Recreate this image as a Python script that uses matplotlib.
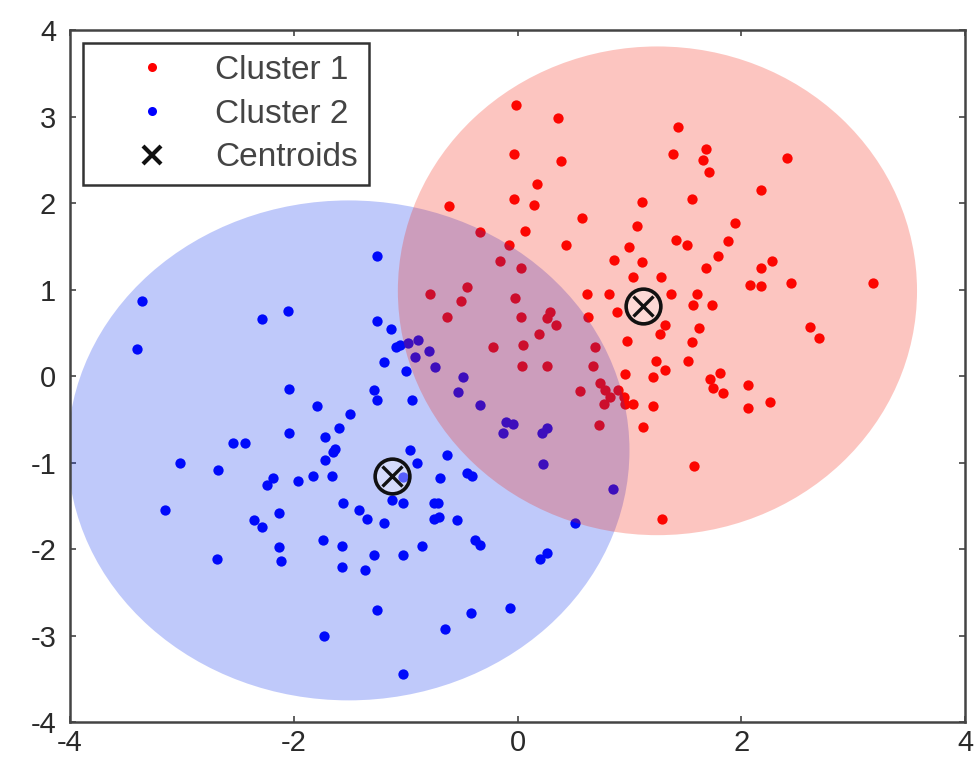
import matplotlib
matplotlib.use("Agg")
import matplotlib.pyplot as plt
from matplotlib.patches import Ellipse
from matplotlib.lines import Line2D

plt.rcParams['font.family'] = ['Liberation Sans', 'DejaVu Sans']
plt.rcParams['axes.unicode_minus'] = False

# ---- data ----
cluster1_x = [-0.01, 0.36, -0.03, 0.39, 0.17, -0.03, 0.15, 0.58, -0.61, -0.34,
              0.07, 0.43, -0.08, -0.16, 0.03, 0.86, -0.45, -0.51, -0.78, -0.63,
              -0.02, 0.03, 0.29, 0.26, 0.62, 0.82, 0.63, 0.89, -0.22, 0.05,
              0.04, 1.43, 1.39, 1.68, 1.66, 1.71, 2.41, 2.18, 1.56, 1.11,
              1.07, 1.94, 1.88, 1.42, 1.51, 1.00, 1.11, 1.79, 1.68, 1.03,
              1.28, 2.27, 2.18, 2.08, 2.18, 2.44, 3.18, 1.37, 1.60, 1.57,
              1.74, 2.61, 2.69, 0.34, 0.19, 0.26, 0.69, 0.67, 0.56, 0.74,
              0.78, 0.83, 0.90, 0.95, 1.03, 0.96, 0.77, 0.73, 0.96, 0.98,
              1.21, 1.12, 1.24, 1.32, 1.21, 1.32, 1.27, 1.62, 1.56, 1.52,
              1.72, 1.81, 1.75, 1.84, 2.06, 2.06, 2.26, 1.58, 1.29]
cluster1_y = [3.13, 2.98, 2.57, 2.49, 2.22, 2.05, 1.98, 1.83, 1.96, 1.67,
              1.68, 1.51, 1.51, 1.33, 1.25, 1.34, 1.03, 0.87, 0.95, 0.68,
              0.90, 0.68, 0.74, 0.67, 0.95, 0.95, 0.68, 0.74, 0.34, 0.36,
              0.11, 2.88, 2.57, 2.63, 2.50, 2.36, 2.52, 2.15, 2.05, 2.01,
              1.73, 1.77, 1.56, 1.57, 1.51, 1.49, 1.32, 1.39, 1.25, 1.15,
              1.15, 1.33, 1.25, 1.05, 1.04, 1.07, 1.07, 0.95, 0.95, 0.82,
              0.82, 0.57, 0.44, 0.59, 0.49, 0.12, 0.34, 0.12, -0.17, -0.08,
              -0.16, -0.24, -0.16, -0.24, -0.32, -0.32, -0.32, -0.57, 0.02, 0.41,
              -0.35, -0.59, 0.17, 0.07, -0.01, 0.59, 0.49, 0.55, 0.39, 0.17,
              -0.03, 0.03, -0.14, -0.20, -0.10, -0.37, -0.30, -1.04, -1.65]

cluster2_x = [-3.36, -3.40, -2.28, -2.05, -2.04, -1.79, -2.04, -2.54, -2.44, -3.02,
              -2.68, -1.72, -1.72, -2.24, -2.19, -1.96, -1.83, -3.15, -2.36, -2.28,
              -2.13, -1.74, -2.13, -2.11, -2.69, -1.73, -1.26, -1.26, -1.13, -1.09,
              -1.05, -1.19, -1.00, -1.28, -1.26, -0.94, -1.50, -1.60, -1.63, -1.65,
              -0.96, -0.90, -0.63, -0.45, -0.41, -0.98, -0.89, -0.92, -0.79, -0.74,
              -0.49, -0.53, -0.34, -0.10, -0.04, -0.13, -1.66, -1.12, -1.02, -0.69,
              -1.56, -1.42, -1.35, -1.19, -0.75, -0.71, -0.75, -0.70, -0.54, -0.38,
              -0.34, -1.57, -1.28, -1.02, -0.85, -1.57, -1.36, -1.26, -0.65, -0.42,
              -0.07, -1.02, 0.26, 0.22, 0.23, 0.85, 0.51, 0.26, 0.20, -1.02]
cluster2_y = [0.87, 0.31, 0.66, 0.75, -0.15, -0.35, -0.66, -0.77, -0.77, -1.01,
              -1.09, -0.70, -0.97, -1.26, -1.18, -1.21, -1.16, -1.55, -1.66, -1.75,
              -1.58, -1.90, -1.98, -2.14, -2.12, -3.00, 1.39, 0.64, 0.54, 0.34,
              0.36, 0.16, 0.06, -0.16, -0.28, -0.28, -0.44, -0.60, -0.84, -0.88,
              -0.86, -1.01, -0.91, -1.12, -1.16, 0.38, 0.42, 0.22, 0.29, 0.10,
              -0.01, -0.19, -0.34, -0.53, -0.55, -0.66, -1.16, -1.43, -1.47, -1.18,
              -1.47, -1.55, -1.65, -1.70, -1.47, -1.47, -1.65, -1.63, -1.66, -1.90,
              -1.95, -1.97, -2.07, -2.07, -1.97, -2.21, -2.24, -2.71, -2.93, -2.74,
              -2.68, -3.44, -0.60, -0.66, -1.02, -1.31, -1.70, -2.05, -2.11, -1.17]

centroid_x = [1.12, -1.12]
centroid_y = [0.81, -1.16]

# shaded regions (center x, center y, width, height)
region1 = (1.25, 0.985, 4.64, 5.65)
region2 = (-1.51, -0.86, 5.02, 5.78)

labels = ["Cluster 1", "Cluster 2", "Centroids"]
ticks = [-4, -2, 0, 2, 4]
yticks = [-4, -3, -2, -1, 0, 1, 2, 3, 4]

# ---- figure ----
fig = plt.figure(figsize=(9.74, 7.6), dpi=100)
ax = fig.add_axes([0.0719, 0.05, 0.919, 0.9105])

ax.scatter(cluster1_x, cluster1_y, s=55, c='#ff0000', linewidths=0, zorder=1)
ax.scatter(cluster2_x, cluster2_y, s=55, c='#0000ff', linewidths=0, zorder=1)

ax.add_patch(Ellipse(region2[:2], region2[2], region2[3], facecolor=(0.0, 0.16, 0.93),
                     alpha=0.25, edgecolor='none', zorder=2))
ax.add_patch(Ellipse(region1[:2], region1[2], region1[3], facecolor=(0.96, 0.1, 0.02),
                     alpha=0.25, edgecolor='none', zorder=2))

ax.plot(centroid_x, centroid_y, linestyle='none', marker='o', markersize=25,
        markerfacecolor=(1, 1, 1, 0.35), markeredgecolor='#111111', markeredgewidth=2.6, zorder=3)
ax.plot(centroid_x, centroid_y, linestyle='none', marker='x', markersize=15,
        markeredgecolor='#111111', markeredgewidth=2.4, zorder=3)

ax.set_xlim(-4, 4)
ax.set_ylim(-4, 4)
ax.set_xticks(ticks)
ax.set_yticks(yticks)
ax.tick_params(direction='in', length=4, width=1.2, color='#444444', top=True, right=True,
               labelsize=21, labelcolor='#2a2a2a')
ax.tick_params(axis='y', pad=10)
ax.tick_params(axis='x', pad=5)
for sp in ax.spines.values():
    sp.set_color('#444444')
    sp.set_linewidth(1.8)

handles = [
    Line2D([], [], linestyle='none', marker='o', markersize=6.5, color='#ff0000', markeredgewidth=0),
    Line2D([], [], linestyle='none', marker='o', markersize=6.5, color='#0000ff', markeredgewidth=0),
    Line2D([], [], linestyle='none', marker='x', markersize=13, color='#111111', markeredgewidth=3),
]
leg = ax.legend(handles, labels, loc='upper left', fontsize=24, frameon=True, fancybox=False,
                borderaxespad=0.4, handlelength=3.4, handletextpad=0.2, labelspacing=0.38,
                borderpad=0.35, framealpha=1.0)
leg.get_frame().set_edgecolor('#333333')
leg.get_frame().set_linewidth(1.8)
for t in leg.get_texts():
    t.set_color('#444444')

fig.savefig('out.png', dpi=100)
